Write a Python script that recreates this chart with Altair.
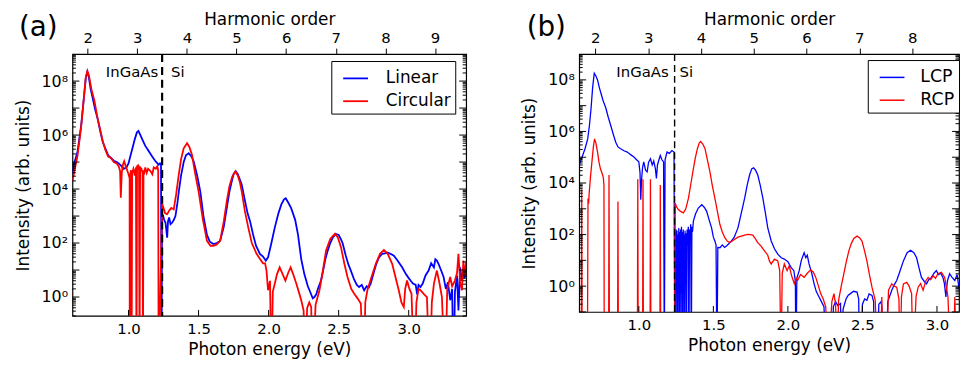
import altair as alt
import pandas as pd

# ---------------- data ----------------
# photon energy of the fundamental (eV): harmonic order n sits at n * E_FUND
E_FUND = 0.3542
# log10 value used for the drop-outs to zero (drawn below the axis, clipped)
DROP = -3

# Panel (a): (photon energy eV, log10 intensity)
a_linear = [
    (0.600, 4.6), (0.615, 5.0), (0.635, 5.35), (0.650, 5.9), (0.663, 6.4), (0.680, 7.3),
    (0.695, 8.1), (0.705, 8.33), (0.715, 8.2), (0.730, 7.7), (0.745, 7.35), (0.762, 6.95),
    (0.780, 6.6), (0.800, 6.1), (0.816, 5.75), (0.835, 5.5), (0.855, 5.25), (0.875, 5.15),
    (0.895, 5.05), (0.915, 5.0), (0.930, 4.95), (0.950, 4.85), (0.965, 4.75), (0.985, 4.8),
    (1.000, 4.95), (1.015, 5.25), (1.030, 5.55), (1.045, 5.85), (1.060, 6.1), (1.071, 6.15),
    (1.085, 6.0), (1.100, 5.82), (1.120, 5.6), (1.146, 5.39), (1.170, 5.2), (1.190, 5.05),
    (1.205, 4.96), (1.215, 4.9), (1.225, 4.95), (1.232, 4.9), (1.236, DROP),
    (1.239, 2.9), (1.245, 3.05), (1.255, 2.85), (1.264, 2.76), (1.276, 2.2), (1.282, 2.8),
    (1.290, 2.95), (1.300, 2.7), (1.312, 2.76), (1.323, 2.85), (1.335, 3.0), (1.347, 3.4),
    (1.359, 3.9), (1.375, 4.5), (1.394, 5.0), (1.410, 5.25), (1.430, 5.33), (1.450, 5.2),
    (1.465, 5.03), (1.490, 4.5), (1.512, 3.92), (1.535, 3.0), (1.560, 2.3), (1.580, 2.05),
    (1.607, 1.96), (1.630, 2.0), (1.654, 2.08), (1.680, 2.6), (1.702, 3.31), (1.720, 3.9),
    (1.737, 4.29), (1.750, 4.55), (1.765, 4.66), (1.780, 4.55), (1.795, 4.35), (1.808, 4.17),
    (1.830, 3.6), (1.850, 3.1), (1.867, 2.82), (1.890, 2.3), (1.910, 1.9), (1.938, 1.6),
    (1.960, 1.5), (1.980, 1.35), (1.996, 1.47), (2.020, 2.0), (2.044, 2.57), (2.070, 3.1),
    (2.091, 3.43), (2.110, 3.62), (2.122, 3.66), (2.140, 3.5), (2.160, 3.3), (2.174, 3.1),
    (2.190, 2.85), (2.210, 2.3), (2.233, 1.4), (2.255, 0.85), (2.280, 0.4), (2.300, 0.15),
    (2.315, -0.05), (2.327, 0.0), (2.340, 0.1), (2.355, 0.35), (2.374, 0.61), (2.390, 1.0),
    (2.405, 1.4), (2.422, 1.72), (2.440, 2.0), (2.460, 2.22), (2.481, 2.33), (2.500, 2.3),
    (2.515, 2.15), (2.528, 2.0), (2.550, 1.55), (2.570, 1.2), (2.587, 0.98), (2.610, 0.65),
    (2.630, 0.45), (2.646, 0.37), (2.665, 0.45), (2.682, 0.25), (2.700, 0.4), (2.715, 0.35),
    (2.729, 0.5), (2.750, 0.9), (2.770, 1.25), (2.788, 1.47), (2.810, 1.6), (2.830, 1.62),
    (2.847, 1.65), (2.870, 1.6), (2.894, 1.53), (2.920, 1.35), (2.953, 1.1), (2.980, 0.85),
    (3.000, 0.7), (3.013, 0.61), (3.030, 0.5), (3.050, 0.45), (3.060, 0.1), (3.070, 0.45),
    (3.084, 0.37), (3.100, 0.5), (3.120, 0.8), (3.142, 0.98), (3.160, 1.25), (3.180, 1.1),
    (3.190, 1.4), (3.201, 1.35), (3.215, 1.2), (3.230, 1.0), (3.249, 0.74), (3.265, 0.3),
    (3.280, 0.55), (3.296, -0.12), (3.310, 0.3), (3.320, DROP), (3.330, 0.2), (3.345, 0.8),
    (3.355, -0.5), (3.367, 1.1), (3.380, 0.6), (3.390, 0.9), (3.400, 0.74), (3.410, 0.8),
]

a_circular = [
    (0.600, 4.3), (0.615, 4.7), (0.635, 5.2), (0.650, 5.8), (0.663, 6.35), (0.680, 7.3),
    (0.695, 8.15), (0.707, 8.38), (0.718, 8.2), (0.735, 7.7), (0.756, 7.29), (0.780, 6.6),
    (0.800, 6.15), (0.816, 5.78), (0.835, 5.45), (0.855, 5.2), (0.875, 5.15), (0.895, 5.0),
    (0.915, 4.95), (0.930, 4.85), (0.940, 4.66), (0.945, 3.68), (0.952, 4.6), (0.960, 4.9),
    (0.969, 5.03), (0.980, 4.85), (0.993, 4.66), (1.003, 4.5), (1.008, 4.4), (1.009, DROP),
    (1.012, 4.5), (1.018, 4.7), (1.022, DROP), (1.026, 4.6), (1.035, 4.75), (1.045, 4.5),
    (1.053, 4.8), (1.057, DROP), (1.061, 4.85), (1.068, 4.88), (1.075, 4.7), (1.079, DROP),
    (1.083, 4.8), (1.092, 4.75), (1.100, 4.6), (1.103, DROP), (1.107, 4.7), (1.110, 4.54),
    (1.120, 4.8), (1.130, 4.6), (1.140, 4.75), (1.158, 4.66), (1.170, 4.55), (1.180, 4.8),
    (1.195, 4.75), (1.205, 4.84), (1.212, 4.7), (1.215, DROP),
    (1.240, 3.45), (1.250, 3.3), (1.262, 3.1), (1.276, 3.07), (1.290, 3.2), (1.305, 3.3),
    (1.323, 3.25), (1.340, 3.8), (1.359, 4.54), (1.375, 5.1), (1.394, 5.51), (1.418, 5.7),
    (1.435, 5.55), (1.453, 5.27), (1.475, 4.6), (1.500, 3.92), (1.530, 2.9), (1.560, 2.08),
    (1.585, 1.9), (1.607, 1.9), (1.630, 1.95), (1.654, 2.08), (1.680, 2.8), (1.702, 3.56),
    (1.720, 4.1), (1.740, 4.45), (1.763, 4.66), (1.780, 4.5), (1.795, 4.25), (1.808, 3.92),
    (1.830, 3.2), (1.855, 2.57), (1.880, 2.0), (1.914, 1.6), (1.940, 1.4), (1.960, 1.25),
    (1.975, 1.25), (1.985, 0.98), (1.996, 0.25), (2.010, 0.6), (2.020, DROP), (2.030, 0.2),
    (2.044, 0.49), (2.060, 0.85), (2.079, 1.1), (2.100, 0.85), (2.120, 0.61), (2.140, 0.9),
    (2.157, 1.1), (2.175, 0.85), (2.198, 0.49), (2.215, 0.2), (2.233, -0.12), (2.250, -0.5),
    (2.260, DROP), (2.275, -0.4), (2.290, -0.2), (2.304, -0.37), (2.315, DROP), (2.335, -0.3),
    (2.350, 0.0), (2.363, 0.25), (2.385, 0.9), (2.410, 1.72), (2.440, 2.15), (2.474, 2.35),
    (2.495, 2.2), (2.517, 1.84), (2.540, 1.25), (2.563, 0.74), (2.590, 0.3), (2.611, 0.12),
    (2.635, -0.05), (2.658, -0.24), (2.680, DROP), (2.690, -0.2), (2.705, 0.25), (2.735, 0.75),
    (2.765, 1.23), (2.795, 1.6), (2.823, 1.74), (2.850, 1.6), (2.882, 1.23), (2.905, 0.75),
    (2.929, 0.25), (2.948, -0.2), (2.965, -0.37), (2.975, 0.3), (2.988, 0.61), (3.005, 0.3),
    (3.020, 0.12), (3.040, DROP), (3.055, -0.2), (3.070, 0.3), (3.084, 0.25), (3.110, 0.1),
    (3.130, 0.0), (3.150, DROP), (3.165, -0.2), (3.180, 0.5), (3.201, 0.98), (3.220, 0.5),
    (3.237, 0.0), (3.260, DROP), (3.275, 0.3), (3.296, 0.74), (3.310, 0.4), (3.330, 0.61),
    (3.345, 0.9), (3.355, 1.6), (3.368, 0.5), (3.380, 0.25), (3.390, 1.35), (3.400, 0.8),
    (3.410, 1.3),
]

# Panel (b)
b_lcp = [
    (0.600, 4.69), (0.612, 4.9), (0.623, 5.07), (0.640, 5.35), (0.657, 5.71), (0.668, 6.2),
    (0.679, 6.86), (0.690, 7.7), (0.701, 8.26), (0.712, 8.15), (0.723, 8.0), (0.735, 7.7),
    (0.745, 7.5), (0.760, 7.2), (0.778, 6.92), (0.795, 6.55), (0.812, 6.22), (0.828, 5.9),
    (0.845, 5.58), (0.860, 5.4), (0.878, 5.33), (0.900, 5.25), (0.923, 5.2), (0.945, 5.1),
    (0.967, 5.01), (0.985, 4.9), (1.000, 4.82), (1.008, 4.4), (1.013, 3.35), (1.018, 4.1),
    (1.025, 4.6), (1.033, 4.82), (1.045, 4.5), (1.056, 4.43), (1.065, 4.8), (1.078, 4.94),
    (1.090, 4.7), (1.100, 4.85), (1.111, 4.56), (1.118, 4.18), (1.125, 4.7), (1.135, 4.9),
    (1.144, 5.07), (1.155, 4.9), (1.166, 4.82), (1.171, DROP), (1.176, 4.9), (1.189, 5.2),
    (1.205, 5.15), (1.222, 5.26), (1.236, 5.2), (1.241, DROP),
    (1.244, 2.1), (1.247, DROP), (1.250, 2.2), (1.253, 1.0), (1.256, 2.15), (1.259, DROP),
    (1.262, 2.0), (1.265, 0.5), (1.268, 2.25), (1.271, DROP), (1.274, 2.1), (1.277, 1.2),
    (1.280, 2.2), (1.283, DROP), (1.286, 2.3), (1.289, 0.8), (1.292, 2.1), (1.295, DROP),
    (1.298, 2.2), (1.301, 1.5), (1.304, 2.0), (1.307, DROP), (1.310, 2.15), (1.313, 1.0),
    (1.316, 2.05), (1.320, DROP), (1.324, 2.2), (1.328, 1.6), (1.332, 2.3), (1.336, DROP),
    (1.340, 2.2), (1.344, 1.8), (1.348, 2.4), (1.352, DROP), (1.356, 2.3), (1.360, 2.1),
    (1.366, 2.52), (1.380, 2.8), (1.399, 3.03), (1.422, 3.16), (1.440, 3.05), (1.455, 2.9),
    (1.470, 2.6), (1.488, 2.26), (1.500, 1.9), (1.510, 1.75), (1.518, 1.6), (1.524, DROP),
    (1.530, 1.5), (1.544, 1.49), (1.560, 1.6), (1.575, 1.5), (1.588, 1.56), (1.605, 1.65),
    (1.621, 1.75), (1.640, 1.9), (1.665, 2.26), (1.690, 2.9), (1.710, 3.41), (1.728, 3.95),
    (1.743, 4.31), (1.757, 4.55), (1.770, 4.59), (1.783, 4.5), (1.798, 4.31), (1.815, 3.9),
    (1.832, 3.41), (1.850, 2.8), (1.865, 2.26), (1.888, 1.75), (1.910, 1.45), (1.932, 1.24),
    (1.955, 1.1), (1.976, 1.05), (2.000, 0.95), (2.021, 0.73), (2.040, 0.6), (2.050, 0.2),
    (2.054, DROP), (2.060, 0.3), (2.076, 0.6), (2.090, 1.0), (2.109, 1.3), (2.120, 1.1),
    (2.130, 1.2), (2.142, 0.86), (2.160, 0.5), (2.176, 0.09), (2.190, -0.2), (2.209, -0.42),
    (2.225, -0.6), (2.242, -0.8), (2.260, DROP), (2.300, DROP), (2.305, -0.8), (2.320, -0.6),
    (2.335, -0.75), (2.353, -0.67), (2.360, DROP), (2.370, -0.9), (2.390, -0.5), (2.405, -0.35),
    (2.420, -0.29), (2.440, -0.2), (2.464, -0.23), (2.475, -0.5), (2.480, DROP), (2.490, DROP),
    (2.500, -0.7), (2.515, -0.5), (2.530, -0.55), (2.545, -0.3), (2.564, -0.36), (2.575, -0.6),
    (2.580, DROP), (2.600, DROP), (2.610, -0.7), (2.625, -0.6), (2.630, -0.8), (2.640, DROP),
    (2.660, DROP), (2.670, -0.6), (2.685, -0.35), (2.697, -0.16), (2.713, 0.05), (2.730, 0.22),
    (2.750, 0.55), (2.775, 0.98), (2.800, 1.3), (2.823, 1.39), (2.845, 1.3), (2.863, 1.11),
    (2.880, 0.7), (2.896, 0.34), (2.913, 0.2), (2.930, 0.09), (2.945, 0.25), (2.963, 0.34),
    (2.980, 0.5), (2.996, 0.6), (3.010, 0.45), (3.025, 0.5), (3.040, 0.34), (3.050, 0.1),
    (3.060, -0.42), (3.070, 0.2), (3.085, 0.48), (3.100, 0.35), (3.120, 0.22), (3.135, 0.45),
    (3.150, -0.16), (3.160, 0.3), (3.174, 0.28), (3.185, 0.1), (3.190, 0.3),
]

b_rcp = [
    (0.600, DROP), (0.614, DROP), (0.617, 3.75), (0.620, DROP), (0.655, DROP), (0.659, 3.4),
    (0.663, 3.2), (0.667, 3.6), (0.675, 4.2), (0.685, 4.8), (0.695, 5.4), (0.703, 5.71),
    (0.712, 5.55), (0.723, 5.2), (0.733, 4.8), (0.742, 4.56), (0.752, 4.4), (0.757, 4.31),
    (0.762, 4.2), (0.766, 3.9), (0.768, DROP), (0.797, DROP), (0.800, 4.31), (0.803, DROP),
    (0.857, DROP), (0.860, 3.28), (0.863, DROP), (0.990, DROP), (0.993, 4.15), (0.996, DROP),
    (1.025, DROP), (1.028, 4.15), (1.031, DROP), (1.075, DROP), (1.078, 4.15), (1.081, DROP),
    (1.141, DROP), (1.144, 3.92), (1.147, DROP), (1.240, DROP),
    (1.244, 3.22), (1.255, 3.05), (1.266, 2.97), (1.280, 2.9), (1.299, 2.84), (1.315, 3.0),
    (1.333, 3.41), (1.350, 4.0), (1.366, 4.56), (1.380, 5.0), (1.393, 5.33), (1.405, 5.55),
    (1.415, 5.61), (1.430, 5.5), (1.444, 5.33), (1.460, 4.9), (1.477, 4.43), (1.493, 3.9),
    (1.510, 3.41), (1.527, 2.9), (1.544, 2.39), (1.560, 2.1), (1.577, 1.88), (1.593, 1.75),
    (1.610, 1.69), (1.627, 1.75), (1.643, 1.82), (1.665, 1.9), (1.688, 1.94), (1.710, 1.98),
    (1.732, 2.01), (1.750, 2.0), (1.765, 1.98), (1.780, 1.85), (1.798, 1.69), (1.820, 1.55),
    (1.843, 1.37), (1.865, 1.2), (1.876, 0.98), (1.888, 0.86), (1.910, 1.05), (1.932, 0.98),
    (1.945, 0.6), (1.954, DROP), (1.962, 0.5), (1.976, 0.86), (1.995, 0.6), (2.009, 0.79),
    (2.025, 0.4), (2.043, 0.09), (2.055, 0.3), (2.065, 0.22), (2.085, 0.45), (2.109, 0.34),
    (2.130, 0.5), (2.153, 0.63), (2.170, 0.55), (2.187, 0.34), (2.205, 0.0), (2.220, -0.29),
    (2.237, -0.5), (2.254, -0.8), (2.270, DROP), (2.295, -0.6), (2.309, -0.29), (2.320, -0.7),
    (2.330, DROP), (2.340, -0.55), (2.358, 0.0), (2.375, 0.48), (2.392, 0.95), (2.409, 1.37),
    (2.425, 1.65), (2.442, 1.85), (2.464, 1.94), (2.480, 1.88), (2.497, 1.75), (2.513, 1.4),
    (2.530, 0.98), (2.547, 0.45), (2.564, -0.04), (2.586, -0.55), (2.600, DROP), (2.620, DROP),
    (2.630, -0.42), (2.640, DROP), (2.660, DROP), (2.675, -0.16), (2.697, 0.09), (2.713, 0.0),
    (2.730, -0.04), (2.745, -0.5), (2.752, DROP), (2.762, -0.4), (2.775, 0.09), (2.797, 0.15),
    (2.813, 0.0), (2.830, -0.29), (2.840, DROP), (2.860, -0.4), (2.874, -0.04), (2.890, 0.1),
    (2.907, -0.16), (2.925, 0.2), (2.941, 0.34), (2.958, 0.25), (2.975, 0.41), (2.990, 0.3),
    (3.007, 0.48), (3.030, 0.54), (3.052, 0.34), (3.074, -0.42), (3.090, DROP), (3.110, DROP),
    (3.120, -0.42), (3.130, DROP), (3.155, DROP), (3.163, -0.42), (3.170, DROP), (3.190, DROP),
]

energy_ticks = [1.0, 1.5, 2.0, 2.5, 3.0]
intensity_labels = [1, 1e2, 1e4, 1e6, 1e8]
a_harmonics = [2, 3, 4, 5, 6, 7, 8, 9]
b_harmonics = [2, 3, 4, 5, 6, 7, 8]
boundary_eV = [1.24]
a_names = ["Linear", "Circular"]
b_names = ["LCP", "RCP"]

FONT = "DejaVu Sans"


def curve_df(points, name):
    return pd.DataFrame({
        "E": [p[0] for p in points],
        "I": [10.0 ** p[1] for p in points],
        "series": name,
        "idx": list(range(len(points))),
    })


def decade_ticks(lo_exp, hi_exp):
    major, minor = [], []
    for k in range(lo_exp, hi_exp + 1):
        major.append(10.0 ** k)
        for m in range(2, 10):
            minor.append(m * 10.0 ** k)
    return major, minor


def panel(tag, curves, names, xmax, ymin, w, h, harmonics, lw, leg_x, leg_y,
          leg_font, leg_off, dash, dash_w, dx_left, dx_right, tag_x, tag_y):
    xs = alt.Scale(domain=[0.6, xmax], nice=False, zero=False)
    ys = alt.Scale(type="log", domain=[ymin, 1e9], nice=False)
    cs = alt.Scale(domain=names, range=["#0000ff", "#ff0000"])
    x_axis = alt.Axis(title="Photon energy (eV)", values=energy_ticks, format=".1f",
                      ticks=False, domain=False, grid=False, labelPadding=6,
                      labelFontSize=15, titlePadding=5, labelFlush=False)
    y_axis = alt.Axis(
        title="Intensity (arb. units)", values=intensity_labels,
        labelExpr="'10' + substring('\u2070\u00b9\u00b2\u00b3\u2074\u2075\u2076\u2077\u2078\u2079', "
                  "round(log(datum.value)/LN10), round(log(datum.value)/LN10) + 1)",
        ticks=False, domain=False, grid=False, labelPadding=5, titlePadding=9,
        labelFontSize=16, labelFlush=False)
    legend = alt.Legend(title=None, orient="none", legendX=leg_x, legendY=leg_y,
                        direction="vertical", fillColor="white", strokeColor="black",
                        padding=4, symbolOffset=7, symbolType="stroke", symbolSize=625,
                        symbolStrokeWidth=max(lw, 1.5), labelFontSize=leg_font,
                        labelFont=FONT, labelColor="black", labelOffset=leg_off,
                        rowPadding=1, cornerRadius=0)

    layers = []
    for df in curves:
        layers.append(
            alt.Chart(df).mark_line(clip=True, strokeWidth=lw).encode(
                x=alt.X("E:Q", scale=xs, axis=x_axis),
                y=alt.Y("I:Q", scale=ys, axis=y_axis),
                color=alt.Color("series:N", scale=cs, legend=legend),
                order=alt.Order("idx:Q"),
            )
        )

    bdf = pd.DataFrame({"E": boundary_eV})
    layers.append(alt.Chart(bdf).mark_rule(color="black", strokeDash=dash,
                                           strokeWidth=dash_w).encode(
        x=alt.X("E:Q", scale=xs, axis=x_axis)))
    layers.append(alt.Chart(bdf).mark_text(text="InGaAs", align="right", baseline="middle",
                                           dx=dx_left, font=FONT, fontSize=15,
                                           color="black").encode(
        x=alt.X("E:Q", scale=xs, axis=x_axis), y=alt.value(18)))
    layers.append(alt.Chart(bdf).mark_text(text="Si", align="left", baseline="middle",
                                           dx=dx_right, font=FONT, fontSize=15,
                                           color="black").encode(
        x=alt.X("E:Q", scale=xs, axis=x_axis), y=alt.value(18)))

    # inward ticks on the bottom axis
    tdf = pd.DataFrame({"E": energy_ticks})
    layers.append(alt.Chart(tdf).mark_rule(color="black", strokeWidth=1).encode(
        x=alt.X("E:Q", scale=xs, axis=x_axis), y=alt.value(h), y2=alt.value(h - 6)))

    # inward ticks on both vertical sides (log decades + minor)
    major, minor = decade_ticks(-1, 8)
    mj = pd.DataFrame({"I": [v for v in major if ymin <= v <= 1e9]})
    mn = pd.DataFrame({"I": [v for v in minor if ymin <= v <= 1e9]})
    for d, ln in ((mj, 7), (mn, 3.5)):
        layers.append(alt.Chart(d).mark_rule(color="black", strokeWidth=1).encode(
            y=alt.Y("I:Q", scale=ys, axis=y_axis), x=alt.value(0), x2=alt.value(ln)))
        layers.append(alt.Chart(d).mark_rule(color="black", strokeWidth=1).encode(
            y=alt.Y("I:Q", scale=ys, axis=y_axis), x=alt.value(w), x2=alt.value(w - ln)))

    # panel tag
    layers.append(alt.Chart(pd.DataFrame({"t": [tag]})).mark_text(
        align="left", baseline="middle", font=FONT, fontSize=28, color="black").encode(
        text="t:N", x=alt.value(tag_x), y=alt.value(tag_y)))

    inner = alt.layer(*layers)

    hdf = pd.DataFrame({"h": harmonics})
    top = alt.Chart(hdf).mark_point(opacity=0).encode(
        x=alt.X("h:Q",
                scale=alt.Scale(domain=[0.6 / E_FUND, xmax / E_FUND], nice=False, zero=False),
                axis=alt.Axis(orient="top", title="Harmonic order", values=harmonics,
                              format="d", tickSize=6, tickColor="black", labelPadding=3,
                              labelFontSize=15, titlePadding=2, domain=False, grid=False,
                              labelFlush=False)),
        y=alt.value(0),
    )
    return alt.layer(inner, top).resolve_scale(x="independent").properties(width=w, height=h)


pa = panel("(a)", [curve_df(a_linear, "Linear"), curve_df(a_circular, "Circular")], a_names,
           3.41, 0.2, 397, 264, a_harmonics, 1.8, 261, 7, 17, 17, [8, 5], 2.2, -4, 9, -54, -26)
# panel (b) keeps the reference scale (150.3 px/eV) and ends a little early so the page fits
pb = panel("(b)", [curve_df(b_lcp, "LCP"), curve_df(b_rcp, "RCP")], b_names,
           3.148, 0.1, 383, 260, b_harmonics, 1.3, 291, 6, 17.5, 15, [7, 4], 1.4, -6, 5, -53, -26)

chart = alt.hconcat(pa, pb, spacing=52).resolve_scale(color="independent").properties(
    padding={"left": 5, "top": 0, "right": 0, "bottom": 0},
    background="white",
).configure_view(stroke="black", strokeWidth=1.2).configure_axis(
    labelFont=FONT, titleFont=FONT, labelFontSize=16, titleFontSize=17,
    labelColor="black", titleColor="black", titleFontWeight="normal",
)

chart.save("out.html", embed_options={"renderer": "svg", "actions": False})
